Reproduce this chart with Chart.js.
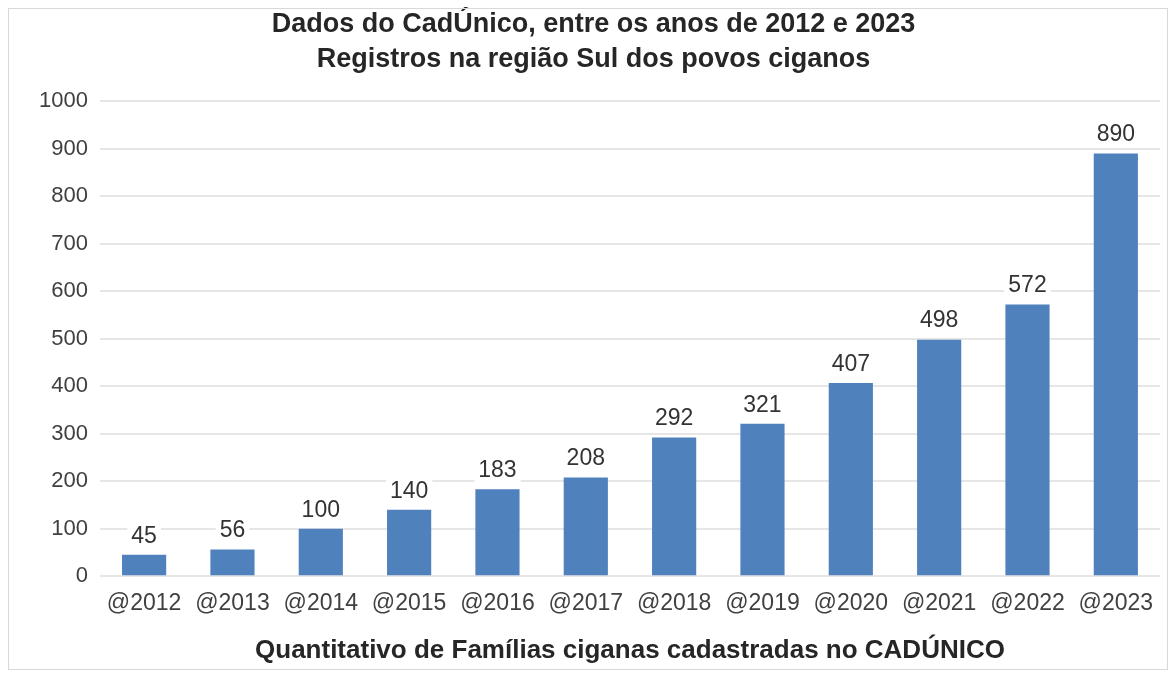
<!DOCTYPE html>
<html>
<head>
<meta charset="utf-8">
<script src="https://cdn.jsdelivr.net/npm/chart.js@4.4.0/dist/chart.umd.min.js"></script>
<style>
  html, body { margin: 0; padding: 0; background: #fff; }
  #wrap { position: relative; width: 1176px; height: 677px; }
  #frame { position: absolute; left: 8px; top: 8px; width: 1158px; height: 660px; border: 1px solid #d9d9d9; pointer-events: none; }
</style>
</head>
<body>
<div id="wrap">
  <canvas id="chart" width="1176" height="677"></canvas>
  <div id="frame"></div>
</div>
<script>
const years = ['@2012', '@2013', '@2014', '@2015', '@2016', '@2017', '@2018', '@2019', '@2020', '@2021', '@2022', '@2023'];
const familias = [45, 56, 100, 140, 183, 208, 292, 321, 407, 498, 572, 890];
const titleLines = ['Dados do CadÚnico, entre os anos de 2012 e 2023', 'Registros na região Sul dos povos ciganos'];
const xTitle = 'Quantitativo de Famílias ciganas cadastradas no CADÚNICO';

const FONT = '"Liberation Sans", Arial, sans-serif';

// value labels on top of bars, with white box behind
const barLabels = {
  id: 'barLabels',
  afterDatasetsDraw(chart) {
    const ctx = chart.ctx;
    const meta = chart.getDatasetMeta(0);
    ctx.save();
    ctx.font = '23px ' + FONT;
    ctx.textAlign = 'center';
    ctx.textBaseline = 'bottom';
    meta.data.forEach((bar, i) => {
      const txt = String(familias[i]);
      const w = ctx.measureText(txt).width + 8;
      const yBottom = bar.y - 8;
      ctx.fillStyle = '#ffffff';
      ctx.fillRect(bar.x - w / 2, yBottom - 26, w, 28);
      ctx.fillStyle = '#333333';
      ctx.fillText(txt, bar.x, yBottom + 1);
    });
    ctx.restore();
  }
};

new Chart(document.getElementById('chart'), {
  type: 'bar',
  data: {
    labels: years,
    datasets: [{
      data: familias,
      backgroundColor: '#4f81bd',
      borderWidth: 0,
      barPercentage: 0.5,
      categoryPercentage: 1.0
    }]
  },
  options: {
    responsive: false,
    animation: false,
    layout: { padding: { left: 27, right: 16, top: 0, bottom: 11 } },
    plugins: {
      legend: { display: false },
      tooltip: { enabled: false },
      title: {
        display: true,
        text: titleLines,
        color: '#262626',
        font: { family: FONT, size: 27, weight: 'bold', lineHeight: 1.3 },
        padding: { top: 7, bottom: 24 }
      }
    },
    scales: {
      x: {
        grid: { display: false },
        border: { display: false },
        ticks: { color: '#404040', font: { family: FONT, size: 23 }, maxRotation: 0, padding: 6 },
        title: {
          display: true,
          text: xTitle,
          color: '#262626',
          font: { family: FONT, size: 26, weight: 'bold' },
          padding: { top: 11, bottom: 0 }
        }
      },
      y: {
        min: 0,
        max: 1000,
        ticks: {
          stepSize: 100,
          color: '#404040',
          font: { family: FONT, size: 22 },
          padding: 12,
          callback: (v) => String(v)
        },
        grid: { color: '#e6e6e6', lineWidth: 2, drawTicks: false },
        border: { display: false }
      }
    }
  },
  plugins: [barLabels]
});
</script>
</body>
</html>
